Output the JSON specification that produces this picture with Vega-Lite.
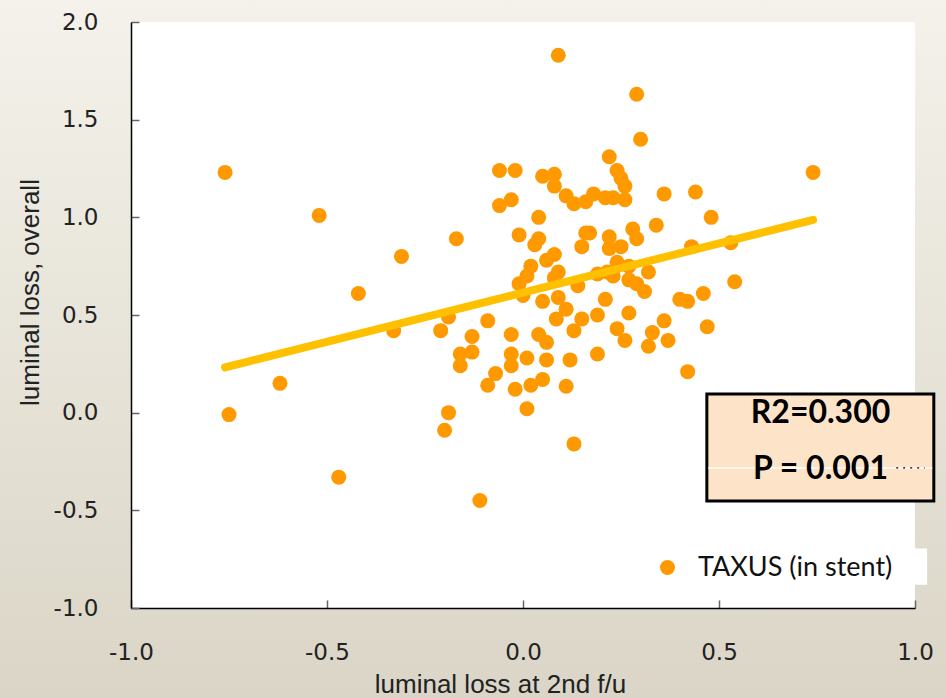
{
  "$schema": "https://vega.github.io/schema/vega-lite/v6.json",
  "width": 784,
  "height": 586,
  "autosize": {"type": "none"},
  "padding": {"left": 131, "top": 22, "right": 31, "bottom": 90},
  "background": "#E8E4D8",
  "config": {
    "view": {"stroke": null},
    "locale": {
      "number": {"decimal": ".", "thousands": ",", "grouping": [3], "currency": ["", ""], "minus": "-"}
    }
  },
  "datasets": {
    "patients": [
      {"loss_2nd_fu": -0.76, "loss_overall": 1.23, "group": "TAXUS (in stent)"},
      {"loss_2nd_fu": -0.75, "loss_overall": -0.01, "group": "TAXUS (in stent)"},
      {"loss_2nd_fu": -0.62, "loss_overall": 0.15, "group": "TAXUS (in stent)"},
      {"loss_2nd_fu": -0.52, "loss_overall": 1.01, "group": "TAXUS (in stent)"},
      {"loss_2nd_fu": -0.47, "loss_overall": -0.33, "group": "TAXUS (in stent)"},
      {"loss_2nd_fu": -0.42, "loss_overall": 0.61, "group": "TAXUS (in stent)"},
      {"loss_2nd_fu": -0.31, "loss_overall": 0.80, "group": "TAXUS (in stent)"},
      {"loss_2nd_fu": -0.17, "loss_overall": 0.89, "group": "TAXUS (in stent)"},
      {"loss_2nd_fu": -0.06, "loss_overall": 1.24, "group": "TAXUS (in stent)"},
      {"loss_2nd_fu": -0.02, "loss_overall": 1.24, "group": "TAXUS (in stent)"},
      {"loss_2nd_fu": -0.06, "loss_overall": 1.06, "group": "TAXUS (in stent)"},
      {"loss_2nd_fu": -0.03, "loss_overall": 1.09, "group": "TAXUS (in stent)"},
      {"loss_2nd_fu": -0.01, "loss_overall": 0.91, "group": "TAXUS (in stent)"},
      {"loss_2nd_fu": -0.01, "loss_overall": 0.66, "group": "TAXUS (in stent)"},
      {"loss_2nd_fu": -0.33, "loss_overall": 0.42, "group": "TAXUS (in stent)"},
      {"loss_2nd_fu": -0.21, "loss_overall": 0.42, "group": "TAXUS (in stent)"},
      {"loss_2nd_fu": -0.19, "loss_overall": 0.49, "group": "TAXUS (in stent)"},
      {"loss_2nd_fu": -0.09, "loss_overall": 0.47, "group": "TAXUS (in stent)"},
      {"loss_2nd_fu": -0.13, "loss_overall": 0.39, "group": "TAXUS (in stent)"},
      {"loss_2nd_fu": -0.16, "loss_overall": 0.30, "group": "TAXUS (in stent)"},
      {"loss_2nd_fu": -0.13, "loss_overall": 0.31, "group": "TAXUS (in stent)"},
      {"loss_2nd_fu": -0.16, "loss_overall": 0.24, "group": "TAXUS (in stent)"},
      {"loss_2nd_fu": -0.07, "loss_overall": 0.20, "group": "TAXUS (in stent)"},
      {"loss_2nd_fu": -0.09, "loss_overall": 0.14, "group": "TAXUS (in stent)"},
      {"loss_2nd_fu": -0.03, "loss_overall": 0.40, "group": "TAXUS (in stent)"},
      {"loss_2nd_fu": -0.03, "loss_overall": 0.30, "group": "TAXUS (in stent)"},
      {"loss_2nd_fu": -0.03, "loss_overall": 0.24, "group": "TAXUS (in stent)"},
      {"loss_2nd_fu": -0.02, "loss_overall": 0.12, "group": "TAXUS (in stent)"},
      {"loss_2nd_fu": -0.19, "loss_overall": 0.00, "group": "TAXUS (in stent)"},
      {"loss_2nd_fu": -0.20, "loss_overall": -0.09, "group": "TAXUS (in stent)"},
      {"loss_2nd_fu": -0.11, "loss_overall": -0.45, "group": "TAXUS (in stent)"},
      {"loss_2nd_fu": 0.09, "loss_overall": 1.83, "group": "TAXUS (in stent)"},
      {"loss_2nd_fu": 0.29, "loss_overall": 1.63, "group": "TAXUS (in stent)"},
      {"loss_2nd_fu": 0.30, "loss_overall": 1.40, "group": "TAXUS (in stent)"},
      {"loss_2nd_fu": 0.74, "loss_overall": 1.23, "group": "TAXUS (in stent)"},
      {"loss_2nd_fu": 0.22, "loss_overall": 1.31, "group": "TAXUS (in stent)"},
      {"loss_2nd_fu": 0.24, "loss_overall": 1.24, "group": "TAXUS (in stent)"},
      {"loss_2nd_fu": 0.25, "loss_overall": 1.20, "group": "TAXUS (in stent)"},
      {"loss_2nd_fu": 0.26, "loss_overall": 1.16, "group": "TAXUS (in stent)"},
      {"loss_2nd_fu": 0.26, "loss_overall": 1.09, "group": "TAXUS (in stent)"},
      {"loss_2nd_fu": 0.05, "loss_overall": 1.21, "group": "TAXUS (in stent)"},
      {"loss_2nd_fu": 0.08, "loss_overall": 1.22, "group": "TAXUS (in stent)"},
      {"loss_2nd_fu": 0.08, "loss_overall": 1.16, "group": "TAXUS (in stent)"},
      {"loss_2nd_fu": 0.11, "loss_overall": 1.11, "group": "TAXUS (in stent)"},
      {"loss_2nd_fu": 0.13, "loss_overall": 1.07, "group": "TAXUS (in stent)"},
      {"loss_2nd_fu": 0.16, "loss_overall": 1.08, "group": "TAXUS (in stent)"},
      {"loss_2nd_fu": 0.18, "loss_overall": 1.12, "group": "TAXUS (in stent)"},
      {"loss_2nd_fu": 0.21, "loss_overall": 1.10, "group": "TAXUS (in stent)"},
      {"loss_2nd_fu": 0.23, "loss_overall": 1.10, "group": "TAXUS (in stent)"},
      {"loss_2nd_fu": 0.36, "loss_overall": 1.12, "group": "TAXUS (in stent)"},
      {"loss_2nd_fu": 0.44, "loss_overall": 1.13, "group": "TAXUS (in stent)"},
      {"loss_2nd_fu": 0.48, "loss_overall": 1.00, "group": "TAXUS (in stent)"},
      {"loss_2nd_fu": 0.04, "loss_overall": 1.00, "group": "TAXUS (in stent)"},
      {"loss_2nd_fu": 0.04, "loss_overall": 0.89, "group": "TAXUS (in stent)"},
      {"loss_2nd_fu": 0.03, "loss_overall": 0.86, "group": "TAXUS (in stent)"},
      {"loss_2nd_fu": 0.08, "loss_overall": 0.81, "group": "TAXUS (in stent)"},
      {"loss_2nd_fu": 0.06, "loss_overall": 0.78, "group": "TAXUS (in stent)"},
      {"loss_2nd_fu": 0.02, "loss_overall": 0.75, "group": "TAXUS (in stent)"},
      {"loss_2nd_fu": 0.01, "loss_overall": 0.70, "group": "TAXUS (in stent)"},
      {"loss_2nd_fu": 0.00, "loss_overall": 0.60, "group": "TAXUS (in stent)"},
      {"loss_2nd_fu": 0.09, "loss_overall": 0.72, "group": "TAXUS (in stent)"},
      {"loss_2nd_fu": 0.08, "loss_overall": 0.69, "group": "TAXUS (in stent)"},
      {"loss_2nd_fu": 0.05, "loss_overall": 0.57, "group": "TAXUS (in stent)"},
      {"loss_2nd_fu": 0.09, "loss_overall": 0.59, "group": "TAXUS (in stent)"},
      {"loss_2nd_fu": 0.11, "loss_overall": 0.53, "group": "TAXUS (in stent)"},
      {"loss_2nd_fu": 0.14, "loss_overall": 0.65, "group": "TAXUS (in stent)"},
      {"loss_2nd_fu": 0.16, "loss_overall": 0.92, "group": "TAXUS (in stent)"},
      {"loss_2nd_fu": 0.17, "loss_overall": 0.92, "group": "TAXUS (in stent)"},
      {"loss_2nd_fu": 0.15, "loss_overall": 0.85, "group": "TAXUS (in stent)"},
      {"loss_2nd_fu": 0.22, "loss_overall": 0.90, "group": "TAXUS (in stent)"},
      {"loss_2nd_fu": 0.22, "loss_overall": 0.84, "group": "TAXUS (in stent)"},
      {"loss_2nd_fu": 0.25, "loss_overall": 0.85, "group": "TAXUS (in stent)"},
      {"loss_2nd_fu": 0.28, "loss_overall": 0.94, "group": "TAXUS (in stent)"},
      {"loss_2nd_fu": 0.29, "loss_overall": 0.89, "group": "TAXUS (in stent)"},
      {"loss_2nd_fu": 0.34, "loss_overall": 0.96, "group": "TAXUS (in stent)"},
      {"loss_2nd_fu": 0.19, "loss_overall": 0.71, "group": "TAXUS (in stent)"},
      {"loss_2nd_fu": 0.215, "loss_overall": 0.72, "group": "TAXUS (in stent)"},
      {"loss_2nd_fu": 0.23, "loss_overall": 0.70, "group": "TAXUS (in stent)"},
      {"loss_2nd_fu": 0.24, "loss_overall": 0.77, "group": "TAXUS (in stent)"},
      {"loss_2nd_fu": 0.27, "loss_overall": 0.75, "group": "TAXUS (in stent)"},
      {"loss_2nd_fu": 0.27, "loss_overall": 0.68, "group": "TAXUS (in stent)"},
      {"loss_2nd_fu": 0.29, "loss_overall": 0.66, "group": "TAXUS (in stent)"},
      {"loss_2nd_fu": 0.31, "loss_overall": 0.62, "group": "TAXUS (in stent)"},
      {"loss_2nd_fu": 0.32, "loss_overall": 0.72, "group": "TAXUS (in stent)"},
      {"loss_2nd_fu": 0.21, "loss_overall": 0.58, "group": "TAXUS (in stent)"},
      {"loss_2nd_fu": 0.40, "loss_overall": 0.58, "group": "TAXUS (in stent)"},
      {"loss_2nd_fu": 0.42, "loss_overall": 0.57, "group": "TAXUS (in stent)"},
      {"loss_2nd_fu": 0.46, "loss_overall": 0.61, "group": "TAXUS (in stent)"},
      {"loss_2nd_fu": 0.54, "loss_overall": 0.67, "group": "TAXUS (in stent)"},
      {"loss_2nd_fu": 0.43, "loss_overall": 0.85, "group": "TAXUS (in stent)"},
      {"loss_2nd_fu": 0.53, "loss_overall": 0.87, "group": "TAXUS (in stent)"},
      {"loss_2nd_fu": 0.085, "loss_overall": 0.48, "group": "TAXUS (in stent)"},
      {"loss_2nd_fu": 0.15, "loss_overall": 0.48, "group": "TAXUS (in stent)"},
      {"loss_2nd_fu": 0.13, "loss_overall": 0.42, "group": "TAXUS (in stent)"},
      {"loss_2nd_fu": 0.19, "loss_overall": 0.50, "group": "TAXUS (in stent)"},
      {"loss_2nd_fu": 0.04, "loss_overall": 0.40, "group": "TAXUS (in stent)"},
      {"loss_2nd_fu": 0.06, "loss_overall": 0.36, "group": "TAXUS (in stent)"},
      {"loss_2nd_fu": 0.01, "loss_overall": 0.28, "group": "TAXUS (in stent)"},
      {"loss_2nd_fu": 0.06, "loss_overall": 0.27, "group": "TAXUS (in stent)"},
      {"loss_2nd_fu": 0.12, "loss_overall": 0.27, "group": "TAXUS (in stent)"},
      {"loss_2nd_fu": 0.19, "loss_overall": 0.30, "group": "TAXUS (in stent)"},
      {"loss_2nd_fu": 0.02, "loss_overall": 0.14, "group": "TAXUS (in stent)"},
      {"loss_2nd_fu": 0.05, "loss_overall": 0.17, "group": "TAXUS (in stent)"},
      {"loss_2nd_fu": 0.11, "loss_overall": 0.135, "group": "TAXUS (in stent)"},
      {"loss_2nd_fu": 0.27, "loss_overall": 0.51, "group": "TAXUS (in stent)"},
      {"loss_2nd_fu": 0.24, "loss_overall": 0.43, "group": "TAXUS (in stent)"},
      {"loss_2nd_fu": 0.26, "loss_overall": 0.37, "group": "TAXUS (in stent)"},
      {"loss_2nd_fu": 0.33, "loss_overall": 0.41, "group": "TAXUS (in stent)"},
      {"loss_2nd_fu": 0.36, "loss_overall": 0.47, "group": "TAXUS (in stent)"},
      {"loss_2nd_fu": 0.37, "loss_overall": 0.37, "group": "TAXUS (in stent)"},
      {"loss_2nd_fu": 0.32, "loss_overall": 0.34, "group": "TAXUS (in stent)"},
      {"loss_2nd_fu": 0.47, "loss_overall": 0.44, "group": "TAXUS (in stent)"},
      {"loss_2nd_fu": 0.42, "loss_overall": 0.21, "group": "TAXUS (in stent)"},
      {"loss_2nd_fu": 0.01, "loss_overall": 0.02, "group": "TAXUS (in stent)"},
      {"loss_2nd_fu": 0.13, "loss_overall": -0.16, "group": "TAXUS (in stent)"}
    ],
    "fit": [
      {"loss_2nd_fu": -0.76, "loss_overall": 0.232},
      {"loss_2nd_fu": 0.74, "loss_overall": 0.987}
    ]
  },
  "layer": [
    {
      "description": "page backdrop with a soft vertical gradient; also carries the shared axes",
      "data": {"values": [{}]},
      "mark": {
        "type": "rect",
        "clip": false,
        "fill": {
          "gradient": "linear", "x1": 0, "y1": 0, "x2": 0, "y2": 1,
          "stops": [{"offset": 0, "color": "#F4F2EB"}, {"offset": 1, "color": "#DAD5C6"}]
        }
      },
      "encoding": {
        "x": {
          "datum": -1.4, "type": "quantitative",
          "scale": {"domain": [-1, 1], "nice": false, "zero": false},
          "axis": {
            "zindex": 2,
            "title": "luminal loss at 2nd f/u",
            "values": [-1, -0.5, 0, 0.5, 1], "format": ".1f",
            "grid": false, "labelFlush": false, "labelOverlap": false,
            "domainColor": "#000000", "domainWidth": 1.5,
            "tickColor": "#666666", "tickWidth": 1.5, "tickSize": -8,
            "labelFont": "DejaVu Sans", "labelFontSize": 23, "labelColor": "#222222", "labelPadding": 41,
            "titleFont": "Liberation Sans", "titleFontSize": 26, "titleFontWeight": "normal", "titleColor": "#222222",
            "titleX": 369, "titleY": 84, "titleAlign": "center", "titleBaseline": "alphabetic"
          }
        },
        "x2": {"datum": 1.1},
        "y": {
          "datum": 2.15, "type": "quantitative",
          "scale": {"domain": [-1, 2], "nice": false, "zero": false},
          "axis": {
            "zindex": 2,
            "title": "luminal loss, overall",
            "values": [-1, -0.5, 0, 0.5, 1, 1.5, 2], "format": ".1f",
            "grid": false, "labelFlush": false, "labelOverlap": false,
            "domainColor": "#000000", "domainWidth": 1.5,
            "tickColor": "#666666", "tickWidth": 1.5, "tickSize": -8,
            "labelFont": "DejaVu Sans", "labelFontSize": 23, "labelColor": "#222222", "labelPadding": 41,
            "titleFont": "Liberation Sans", "titleFontSize": 26, "titleFontWeight": "normal", "titleColor": "#222222",
            "titleX": -93, "titleY": 270, "titleAngle": -90, "titleAlign": "center", "titleBaseline": "alphabetic"
          }
        },
        "y2": {"datum": -1.5}
      }
    },
    {
      "description": "white plotting area",
      "data": {"values": [{}]},
      "mark": {"type": "rect", "fill": "#FFFFFF"},
      "encoding": {
        "x": {"datum": -1, "type": "quantitative"},
        "x2": {"datum": 1},
        "y": {"datum": 2, "type": "quantitative"},
        "y2": {"datum": -1}
      }
    },
    {
      "description": "white backing of the legend entry",
      "data": {"values": [{}]},
      "mark": {"type": "rect", "fill": "#FFFFFF", "clip": false},
      "encoding": {
        "x": {"datum": 0.33, "type": "quantitative"},
        "x2": {"datum": 1.031},
        "y": {"datum": -0.696, "type": "quantitative"},
        "y2": {"datum": -0.881}
      }
    },
    {
      "data": {"name": "patients"},
      "mark": {"type": "circle", "size": 225, "opacity": 1},
      "encoding": {
        "x": {"field": "loss_2nd_fu", "type": "quantitative", "title": "luminal loss at 2nd f/u"},
        "y": {"field": "loss_overall", "type": "quantitative", "title": "luminal loss, overall"},
        "color": {
          "field": "group", "type": "nominal",
          "scale": {"range": ["#FF9900"]},
          "legend": {
            "title": null, "orient": "none", "legendX": 523, "legendY": 532,
            "padding": 0, "symbolType": "circle", "symbolSize": 225, "symbolStrokeWidth": 0,
            "symbolOpacity": 1, "labelOffset": 17,
            "labelFont": "Lato", "labelFontSize": 27, "labelColor": "#111111", "labelLimit": 400
          }
        }
      }
    },
    {
      "description": "least-squares fit",
      "data": {"name": "fit"},
      "mark": {"type": "line", "color": "#FFC000", "strokeWidth": 8, "strokeCap": "round"},
      "encoding": {
        "x": {"field": "loss_2nd_fu", "type": "quantitative", "title": "luminal loss at 2nd f/u"},
        "y": {"field": "loss_overall", "type": "quantitative", "title": "luminal loss, overall"}
      }
    },
    {
      "description": "statistics box",
      "data": {"values": [{}]},
      "mark": {"type": "rect", "fill": "#FDE4C8", "stroke": "#000000", "strokeWidth": 3, "clip": false},
      "encoding": {
        "x": {"datum": 0.469, "type": "quantitative"},
        "x2": {"datum": 1.048},
        "y": {"datum": 0.096, "type": "quantitative"},
        "y2": {"datum": -0.452}
      }
    },
    {
      "data": {"values": [{}]},
      "mark": {"type": "rule", "color": "#FFFFFF", "strokeWidth": 1.5, "clip": false},
      "encoding": {
        "x": {"datum": 0.473, "type": "quantitative"},
        "x2": {"datum": 1.044},
        "y": {"datum": -0.283, "type": "quantitative"}
      }
    },
    {
      "data": {"values": [{}]},
      "mark": {"type": "rule", "color": "#000000", "strokeWidth": 1.2, "strokeDash": [2, 5], "clip": false},
      "encoding": {
        "x": {"datum": 0.952, "type": "quantitative"},
        "x2": {"datum": 1.025},
        "y": {"datum": -0.283, "type": "quantitative"}
      }
    },
    {
      "data": {"values": [{"stat": "R2=0.300", "row": 0.0}, {"stat": "P = 0.001", "row": -0.288}]},
      "mark": {"type": "text", "font": "Lato", "fontWeight": "bold", "fontSize": 32, "color": "#000000", "align": "center", "baseline": "middle", "clip": false},
      "encoding": {
        "x": {"datum": 0.759, "type": "quantitative"},
        "y": {"field": "row", "type": "quantitative"},
        "text": {"field": "stat"}
      }
    }
  ]
}
